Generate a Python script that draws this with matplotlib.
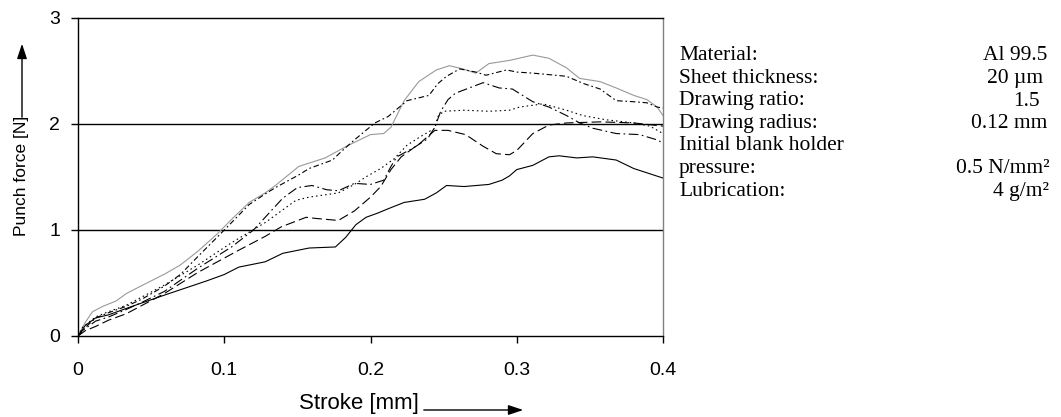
import matplotlib
matplotlib.use("Agg")
import matplotlib.pyplot as plt
from matplotlib.patches import FancyArrowPatch

plt.rcParams['lines.scale_dashes'] = False

# ---------------- data ----------------
solid_x = [0, 0.005, 0.012, 0.021, 0.035, 0.06, 0.088, 0.1, 0.11, 0.128, 0.14, 0.158, 0.176, 0.183,
           0.19, 0.197, 0.205, 0.212, 0.223, 0.237, 0.245, 0.252, 0.264, 0.281, 0.290, 0.295, 0.300,
           0.311, 0.322, 0.329, 0.341, 0.352, 0.368, 0.380, 0.4]
solid_y = [0, 0.10, 0.17, 0.20, 0.27, 0.39, 0.52, 0.58, 0.65, 0.70, 0.78, 0.83, 0.84, 0.93,
           1.05, 1.12, 1.16, 1.20, 1.26, 1.29, 1.35, 1.42, 1.41, 1.43, 1.47, 1.51, 1.57,
           1.61, 1.69, 1.70, 1.68, 1.69, 1.66, 1.58, 1.49]

gray_x = [0, 0.005, 0.010, 0.017, 0.026, 0.033, 0.040, 0.050, 0.060, 0.070, 0.082, 0.095, 0.105,
          0.117, 0.128, 0.135, 0.151, 0.169, 0.185, 0.200, 0.209, 0.214, 0.223, 0.233, 0.245, 0.254,
          0.263, 0.272, 0.281, 0.295, 0.311, 0.322, 0.334, 0.343, 0.357, 0.368, 0.380, 0.389, 0.396, 0.4]
gray_y = [0, 0.13, 0.23, 0.28, 0.33, 0.40, 0.45, 0.52, 0.59, 0.67, 0.80, 0.96, 1.10,
          1.26, 1.35, 1.42, 1.60, 1.68, 1.80, 1.90, 1.91, 1.97, 2.22, 2.40, 2.51, 2.55,
          2.52, 2.48, 2.57, 2.60, 2.65, 2.62, 2.53, 2.43, 2.40, 2.34, 2.27, 2.23, 2.16, 2.08]

dashdot_x = [0, 0.005, 0.012, 0.021, 0.033, 0.044, 0.059, 0.07, 0.082, 0.095, 0.105, 0.117, 0.128,
             0.135, 0.151, 0.158, 0.174, 0.180, 0.189, 0.203, 0.212, 0.225, 0.240, 0.246, 0.252,
             0.261, 0.272, 0.279, 0.293, 0.300, 0.311, 0.334, 0.346, 0.357, 0.368, 0.380, 0.389,
             0.396, 0.4]
dashdot_y = [0, 0.08, 0.17, 0.22, 0.28, 0.35, 0.47, 0.58, 0.75, 0.93, 1.07, 1.24, 1.34,
             1.40, 1.52, 1.58, 1.66, 1.74, 1.85, 2.01, 2.07, 2.22, 2.27, 2.38, 2.45,
             2.52, 2.49, 2.46, 2.51, 2.49, 2.48, 2.45, 2.38, 2.33, 2.22, 2.21, 2.20,
             2.16, 2.15]

longdashdot_x = [0, 0.003, 0.012, 0.021, 0.033, 0.044, 0.059, 0.082, 0.105, 0.12, 0.13, 0.14, 0.15,
                 0.16, 0.17, 0.178, 0.189, 0.200, 0.209, 0.214, 0.218, 0.230, 0.239, 0.244, 0.248,
                 0.253, 0.258, 0.277, 0.288, 0.297, 0.304, 0.311, 0.322, 0.334, 0.343, 0.352, 0.368,
                 0.384, 0.396, 0.4]
longdashdot_y = [0, 0.05, 0.14, 0.18, 0.25, 0.32, 0.42, 0.64, 0.84, 1.0, 1.15, 1.3, 1.4,
                 1.42, 1.38, 1.37, 1.44, 1.43, 1.47, 1.60, 1.69, 1.78, 1.86, 1.97, 2.12,
                 2.23, 2.29, 2.39, 2.34, 2.33, 2.27, 2.21, 2.16, 2.08, 2.01, 1.96, 1.91,
                 1.90, 1.85, 1.82]

dotted_x = [0, 0.003, 0.012, 0.021, 0.033, 0.044, 0.059, 0.082, 0.105, 0.128, 0.149, 0.158, 0.178,
            0.189, 0.198, 0.207, 0.216, 0.225, 0.234, 0.244, 0.246, 0.250, 0.264, 0.281, 0.295,
            0.302, 0.318, 0.334, 0.345, 0.361, 0.380, 0.391, 0.4]
dotted_y = [0, 0.08, 0.18, 0.23, 0.29, 0.37, 0.48, 0.67, 0.88, 1.07, 1.28, 1.31, 1.35,
            1.43, 1.51, 1.58, 1.67, 1.80, 1.88, 1.96, 2.07, 2.12, 2.13, 2.12, 2.13,
            2.16, 2.19, 2.13, 2.08, 2.04, 2.01, 1.98, 1.91]

longdash_x = [0, 0.005, 0.012, 0.021, 0.033, 0.059, 0.082, 0.110, 0.128, 0.139, 0.156, 0.162, 0.178,
              0.189, 0.200, 0.207, 0.214, 0.221, 0.234, 0.244, 0.253, 0.265, 0.277, 0.286, 0.295,
              0.300, 0.311, 0.322, 0.334, 0.357, 0.380, 0.4]
longdash_y = [0, 0.05, 0.09, 0.15, 0.21, 0.40, 0.60, 0.81, 0.94, 1.03, 1.12, 1.11, 1.09,
              1.18, 1.31, 1.41, 1.57, 1.69, 1.82, 1.94, 1.94, 1.90, 1.79, 1.72, 1.71,
              1.75, 1.91, 1.99, 2.01, 2.02, 2.01, 1.98]

x_ticks = [0, 0.1, 0.2, 0.3, 0.4]
x_ticklabels = ["0", "0.1", "0.2", "0.3", "0.4"]
y_ticks = [0, 1, 2, 3]
y_ticklabels = ["0", "1", "2", "3"]

info_labels = ["Material:", "Sheet thickness:", "Drawing ratio:", "Drawing radius:",
               "Initial blank holder", "pressure:", "Lubrication:"]
info_values = ["Al 99.5", "20 µm", "1.5", "0.12 mm", "", "0.5 N/mm²", "4 g/m²"]

# ---------------- figure ----------------
W, H = 1061, 417
fig = plt.figure(figsize=(W / 100, H / 100), dpi=100)

def fx(px):
    return px / W

def fy(py):
    return 1 - py / H

ax_left, ax_right, ax_top, ax_bottom = 78, 663, 18, 336
ax = fig.add_axes([fx(ax_left), fy(ax_bottom), fx(ax_right - ax_left), (ax_bottom - ax_top) / H])

lw = 0.8
ax.plot(gray_x, gray_y, color="#999999", lw=lw)
ax.plot(solid_x, solid_y, color="black", lw=lw)
ax.plot(dashdot_x, dashdot_y, color="black", lw=lw, linestyle=(0, (4, 2, 1.2, 2)))
ax.plot(longdashdot_x, longdashdot_y, color="black", lw=lw, linestyle=(0, (7, 2.5, 1.2, 2.5)))
ax.plot(dotted_x, dotted_y, color="black", lw=lw, linestyle=(0, (1.1, 2.2)))
ax.plot(longdash_x, longdash_y, color="black", lw=lw, linestyle=(0, (7, 3)))

ax.set_xlim(0, 0.4)
ax.set_ylim(0, 3)
for yv in [1, 2]:
    ax.axhline(yv, color="black", lw=1.0, zorder=0)

ax.set_xticks(x_ticks)
ax.set_xticklabels(x_ticklabels)
ax.set_yticks(y_ticks)
ax.set_yticklabels(y_ticklabels)

sans = ["Liberation Sans", "DejaVu Sans"]
for lab in ax.get_xticklabels() + ax.get_yticklabels():
    lab.set_fontfamily(sans)
    lab.set_fontsize(14)
ax.tick_params(axis="x", direction="out", length=5, width=1, pad=14)
ax.tick_params(axis="y", direction="out", length=5, width=1, pad=8)

for s in ["left", "bottom", "top"]:
    ax.spines[s].set_color("black")
    ax.spines[s].set_linewidth(1.0)
ax.spines["right"].set_color("#808080")
ax.spines["right"].set_linewidth(1.0)

# axis labels with arrows
fig.text(fx(359), fy(404), "Stroke [mm]", ha="center", va="center", family=sans, fontsize=16)
fig.add_artist(FancyArrowPatch(
    (fx(421), fy(410)), (fx(526), fy(410)), transform=fig.transFigure,
    arrowstyle="-|>,head_length=9,head_width=3", mutation_scale=1, color="black", lw=1.0))

fig.text(fx(22), fy(176), "Punch force [N]", ha="center", va="center", rotation=90,
         family=sans, fontsize=12.5)
fig.add_artist(FancyArrowPatch(
    (fx(22), fy(120)), (fx(22), fy(41)), transform=fig.transFigure,
    arrowstyle="-|>,head_length=9,head_width=3", mutation_scale=1, color="black", lw=1.0))

# info block
serif = ["Liberation Serif", "DejaVu Serif"]
line_y0, line_dy = 56, 22.5
val_right = [1047, 1043, 1040, 1047, 1047, 1050, 1049]
for i, (lab, val) in enumerate(zip(info_labels, info_values)):
    yy = fy(line_y0 + i * line_dy)
    fig.text(fx(679), yy, lab, ha="left", va="center", family=serif, fontsize=15.5)
    if val:
        fig.text(fx(val_right[i]), yy, val, ha="right", va="center", family=serif, fontsize=15.5)

fig.savefig("out.png", dpi=100)
